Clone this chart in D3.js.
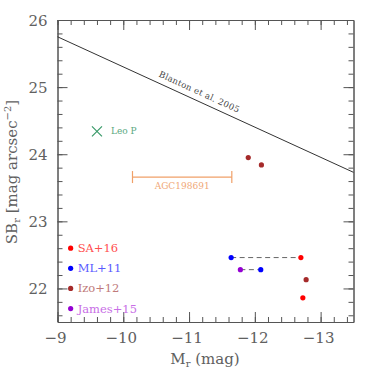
<!DOCTYPE html>
<html>
<head>
<meta charset="utf-8">
<script src="https://cdn.jsdelivr.net/npm/d3@7"></script>
<style>
  body { margin: 0; background: #fff; }
  svg text { font-family: "DejaVu Serif", serif; }
</style>
</head>
<body>
<div id="chart"></div>
<script>
const chartWidth = 374;
const chartHeight = 374;

const margin = {
  top: 20,
  bottom: 52,
  left: 57.5,
  right: 20.5
};

// Blanton et al. 2005 relation (end points)
var blantonMr = [-9, -13.5];
var blantonSB = [25.75, 23.73];

// Leo P
var leoP = { mr: -9.6, sb: 24.34, label: "Leo P" };

// AGC198691 range in M_r
var agcMr = [-10.14, -11.65];
var agcSB = 23.66;

// galaxies, colour by source
var pointsMr = [-11.90, -12.10, -11.64, -12.70, -11.78, -12.09, -12.78, -12.73];
var pointsSB = [23.95, 23.84, 22.46, 22.46, 22.28, 22.28, 22.13, 21.86];
var pointsSrc = ["Izo+12", "Izo+12", "ML+11", "SA+16", "James+15", "ML+11", "Izo+12", "SA+16"];

// dashed connections (indexes into the points)
var links = [[2, 3], [4, 5]];

// legend
var legendNames = ["SA+16", "ML+11", "Izo+12", "James+15"];
var legendSB = [22.6, 22.3, 22.0, 21.7];
var legendMr = -9.2;

var xTicks = [-9, -10, -11, -12, -13];
var yTicks = [22, 23, 24, 25, 26];

var dotColor = { "SA+16": "#ff0000", "ML+11": "#0000ff", "Izo+12": "#a52a2a", "James+15": "#9400d3" };
var textColor = { "SA+16": "#ff5050", "ML+11": "#5a5aff", "Izo+12": "#c07a7a", "James+15": "#c86ee6" };

var axisColor = "#555";
var labelColor = "#606060";

var xScale = d3.scaleLinear()
              .domain([-9, -13.5])
              .range([margin.left, chartWidth - margin.right]);

var yScale = d3.scaleLinear()
              .domain([21.5, 26])
              .range([chartHeight - margin.bottom, margin.top]);

var svg = d3.select("#chart")
            .append("svg")
            .attr("width", chartWidth)
            .attr("height", chartHeight);

// minor ticks every 0.2
var xMinor = d3.range(0, 23).map(i => -9 - i * 0.2);
var yMinor = d3.range(0, 23).map(i => 21.6 + i * 0.2);

function frameAxis(axis, transform) {
  var g = svg.append("g")
    .attr("transform", transform)
    .call(axis);
  g.select(".domain").attr("stroke", axisColor);
  g.selectAll(".tick line").attr("stroke", axisColor);
  g.selectAll("text").remove();
  return g;
}

var x0 = margin.left, x1 = chartWidth - margin.right;
var y0 = chartHeight - margin.bottom, y1 = margin.top;

// minor ticks, all four sides, pointing inward
frameAxis(d3.axisBottom(xScale).tickValues(xMinor).tickSize(-5).tickSizeOuter(0), "translate(0," + y0 + ")");
frameAxis(d3.axisTop(xScale).tickValues(xMinor).tickSize(-5).tickSizeOuter(0), "translate(0," + y1 + ")");
frameAxis(d3.axisLeft(yScale).tickValues(yMinor).tickSize(-5).tickSizeOuter(0), "translate(" + x0 + ",0)");
frameAxis(d3.axisRight(yScale).tickValues(yMinor).tickSize(-5).tickSizeOuter(0), "translate(" + x1 + ",0)");

// major ticks
frameAxis(d3.axisBottom(xScale).tickValues(xTicks).tickSize(-10).tickSizeOuter(0), "translate(0," + y0 + ")");
frameAxis(d3.axisTop(xScale).tickValues(xTicks).tickSize(-10).tickSizeOuter(0), "translate(0," + y1 + ")");
frameAxis(d3.axisLeft(yScale).tickValues(yTicks).tickSize(-10).tickSizeOuter(0), "translate(" + x0 + ",0)");
frameAxis(d3.axisRight(yScale).tickValues(yTicks).tickSize(-10).tickSizeOuter(0), "translate(" + x1 + ",0)");

// tick labels
svg.append("g").selectAll("text")
  .data(xTicks)
  .enter().append("text")
  .attr("x", d => xScale(d) - 2)
  .attr("y", y0 + 21)
  .attr("text-anchor", "middle")
  .attr("fill", labelColor)
  .style("font-size", "15px")
  .text(d => "\u2212" + Math.abs(d));

svg.append("g").selectAll("text")
  .data(yTicks)
  .enter().append("text")
  .attr("x", x0 - 10)
  .attr("y", d => yScale(d) + 5.5)
  .attr("text-anchor", "end")
  .attr("fill", labelColor)
  .style("font-size", "15px")
  .text(d => d);

// axis titles
var xt = svg.append("text")
  .attr("x", 205)
  .attr("y", 364)
  .attr("text-anchor", "middle")
  .attr("fill", labelColor)
  .style("font-size", "15px");
xt.append("tspan").text("M");
xt.append("tspan").attr("dy", 3).style("font-size", "10px").text("r");
xt.append("tspan").attr("dy", -3).text(" (mag)");

var yt = svg.append("text")
  .attr("transform", "translate(17,172) rotate(-90)")
  .attr("text-anchor", "middle")
  .attr("fill", labelColor)
  .style("font-size", "15px");
yt.append("tspan").text("SB");
yt.append("tspan").attr("dy", 3).style("font-size", "10px").text("r");
yt.append("tspan").attr("dy", -3).text(" [mag arcsec");
yt.append("tspan").attr("dy", -6).style("font-size", "10px").text("\u22122");
yt.append("tspan").attr("dy", 6).text("]");

// Blanton line
svg.append("line")
  .attr("x1", xScale(blantonMr[0]))
  .attr("y1", yScale(blantonSB[0]))
  .attr("x2", xScale(blantonMr[1]))
  .attr("y2", yScale(blantonSB[1]))
  .attr("stroke", "#333")
  .attr("stroke-width", 1);

var angle = Math.atan2(yScale(blantonSB[1]) - yScale(blantonSB[0]),
                       xScale(blantonMr[1]) - xScale(blantonMr[0])) * 180 / Math.PI;
var bMr = -11.1;
var bSB = blantonSB[0] + (blantonSB[1] - blantonSB[0]) * (bMr - blantonMr[0]) / (blantonMr[1] - blantonMr[0]);
svg.append("text")
  .attr("transform", "translate(" + xScale(bMr) + "," + yScale(bSB) + ") rotate(" + angle + ")")
  .attr("y", -6)
  .attr("text-anchor", "middle")
  .attr("fill", "#444")
  .style("font-size", "8.5px")
  .style("letter-spacing", "0.3px")
  .text("Blanton et al. 2005");

// Leo P
var lx = xScale(leoP.mr), ly = yScale(leoP.sb);
svg.append("path")
  .attr("d", "M" + (lx - 5) + "," + (ly - 5) + "L" + (lx + 5) + "," + (ly + 5) +
             "M" + (lx - 5) + "," + (ly + 5) + "L" + (lx + 5) + "," + (ly - 5))
  .attr("stroke", "#3a9a6a")
  .attr("stroke-width", 1.2);
svg.append("text")
  .attr("x", lx + 14)
  .attr("y", ly + 3)
  .attr("fill", "#5aa880")
  .style("font-size", "9px")
  .text(leoP.label);

// AGC198691
var agcColor = "#f0a068";
var ay = yScale(agcSB);
svg.append("line")
  .attr("x1", xScale(agcMr[0])).attr("x2", xScale(agcMr[1]))
  .attr("y1", ay).attr("y2", ay)
  .attr("stroke", agcColor).attr("stroke-width", 1.2);
svg.selectAll(".cap")
  .data(agcMr)
  .enter().append("line")
  .attr("x1", d => xScale(d)).attr("x2", d => xScale(d))
  .attr("y1", ay - 6).attr("y2", ay + 6)
  .attr("stroke", agcColor).attr("stroke-width", 1.2);
svg.append("text")
  .attr("x", (xScale(agcMr[0]) + xScale(agcMr[1])) / 2)
  .attr("y", ay + 12)
  .attr("text-anchor", "middle")
  .attr("fill", "#f0a878")
  .style("font-size", "9px")
  .text("AGC198691");

// dashed links
svg.selectAll(".link")
  .data(links)
  .enter().append("line")
  .attr("x1", d => xScale(pointsMr[d[0]]))
  .attr("y1", d => yScale(pointsSB[d[0]]))
  .attr("x2", d => xScale(pointsMr[d[1]]))
  .attr("y2", d => yScale(pointsSB[d[1]]))
  .attr("stroke", "#666")
  .attr("stroke-width", 1)
  .attr("stroke-dasharray", "5,3.5");

// points
svg.selectAll(".pt")
  .data(pointsMr)
  .enter().append("circle")
  .attr("cx", d => xScale(d))
  .attr("cy", (d, i) => yScale(pointsSB[i]))
  .attr("r", 2.6)
  .attr("fill", (d, i) => dotColor[pointsSrc[i]]);

// legend
svg.selectAll(".legdot")
  .data(legendNames)
  .enter().append("circle")
  .attr("cx", xScale(legendMr))
  .attr("cy", (d, i) => yScale(legendSB[i]))
  .attr("r", 2.6)
  .attr("fill", d => dotColor[d]);

svg.selectAll(".legtxt")
  .data(legendNames)
  .enter().append("text")
  .attr("x", xScale(legendMr) + 7)
  .attr("y", (d, i) => yScale(legendSB[i]) + 4)
  .attr("fill", d => textColor[d])
  .style("font-size", "11.5px")
  .text(d => d);
</script>
</body>
</html>
